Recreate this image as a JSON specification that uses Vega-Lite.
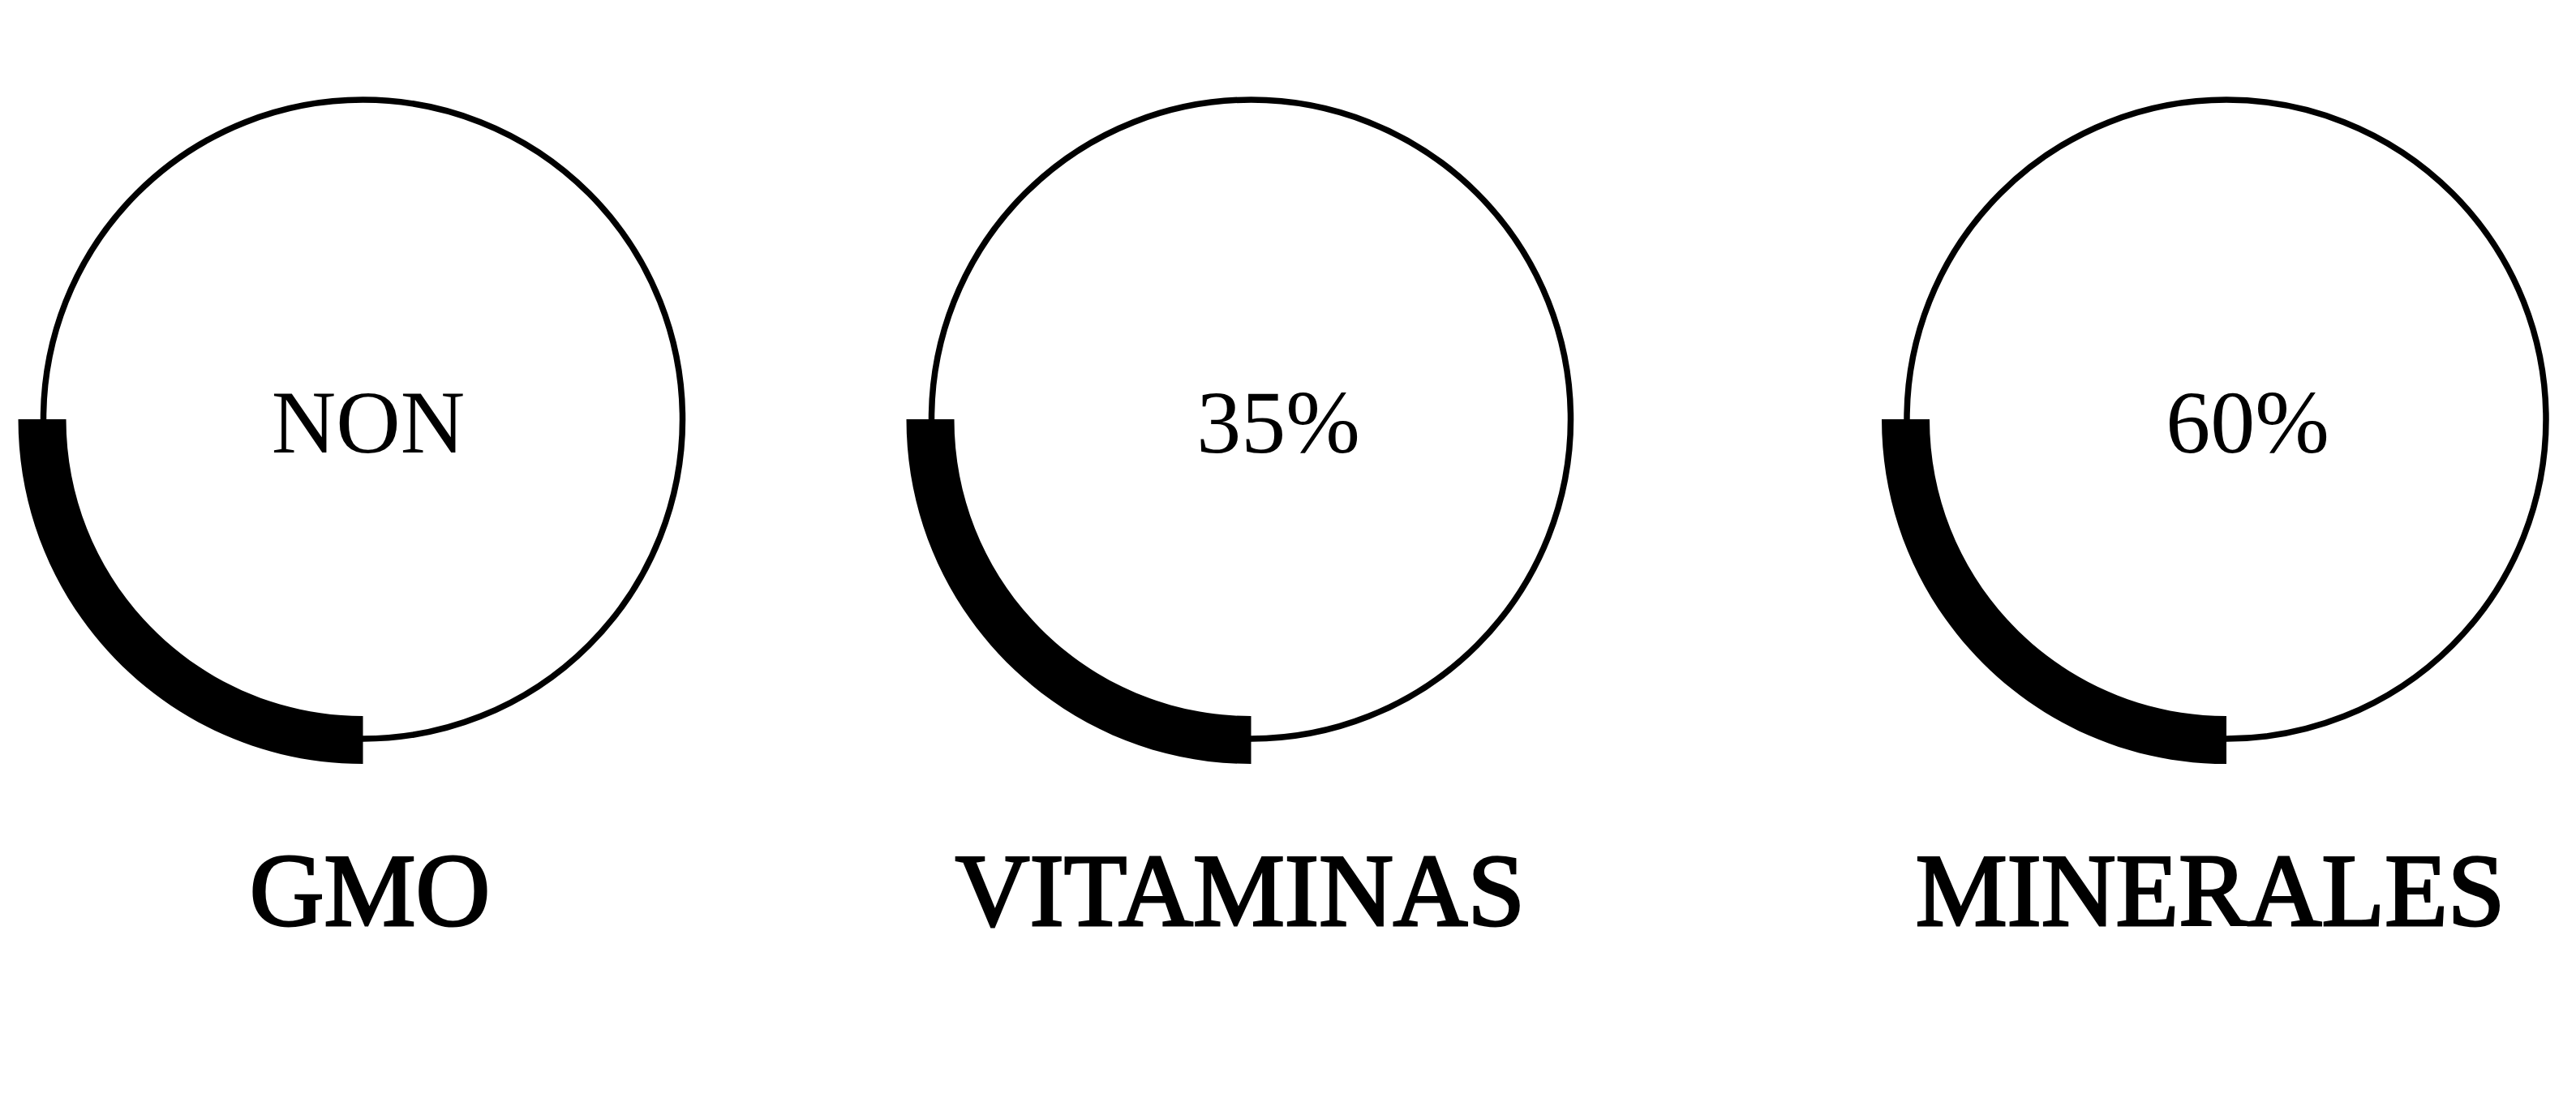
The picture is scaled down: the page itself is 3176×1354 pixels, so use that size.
{
  "$schema": "https://vega.github.io/schema/vega-lite/v6.json",
  "width": 3176,
  "height": 1354,
  "autosize": {"type": "fit", "contains": "padding"},
  "padding": 0,
  "background": "white",
  "config": {"view": {"stroke": null}},
  "data": {
    "values": [
      {"idx": 1, "name": "GMO", "center": "NON"},
      {"idx": 2, "name": "VITAMINAS", "center": "35%"},
      {"idx": 3, "name": "MINERALES", "center": "60%"}
    ]
  },
  "layer": [
    {
      "mark": {"type": "point", "shape": "circle", "filled": false, "size": 620944, "strokeWidth": 7.5, "color": "black", "opacity": 1},
      "encoding": {
        "x": {"field": "idx", "type": "quantitative", "scale": {"domain": [1, 2, 3], "range": [447.5, 1542.5, 2745], "zero": false, "nice": false}, "axis": null},
        "y": {"value": 517}
      }
    },
    {
      "mark": {"type": "point", "shape": "M -1 0 C -1 0.55228 -0.55228 1 0 1 L 0 0.86118 C -0.47564 0.86118 -0.86118 0.47564 -0.86118 0 Z", "filled": true, "size": 722500, "strokeWidth": 0, "color": "black", "opacity": 1},
      "encoding": {
        "x": {"field": "idx", "type": "quantitative", "scale": {"domain": [1, 2, 3], "range": [447.5, 1542.5, 2745], "zero": false, "nice": false}, "axis": null},
        "y": {"value": 517}
      }
    },
    {
      "mark": {"type": "text", "font": "Liberation Serif", "fontSize": 110, "color": "black", "align": "center", "baseline": "alphabetic"},
      "encoding": {
        "x": {"field": "idx", "type": "quantitative", "scale": {"domain": [1, 2, 3], "range": [454, 1576, 2771], "zero": false, "nice": false}, "axis": null},
        "y": {"value": 558},
        "text": {"field": "center"}
      }
    },
    {
      "mark": {"type": "text", "font": "Liberation Serif", "fontSize": 127, "color": "black", "stroke": "black", "strokeWidth": 3, "align": "center", "baseline": "alphabetic"},
      "encoding": {
        "x": {"field": "idx", "type": "quantitative", "scale": {"domain": [1, 2, 3], "range": [456, 1529, 2725], "zero": false, "nice": false}, "axis": null},
        "y": {"value": 1141},
        "text": {"field": "name"}
      }
    }
  ],
  "resolve": {"scale": {"x": "independent"}}
}
